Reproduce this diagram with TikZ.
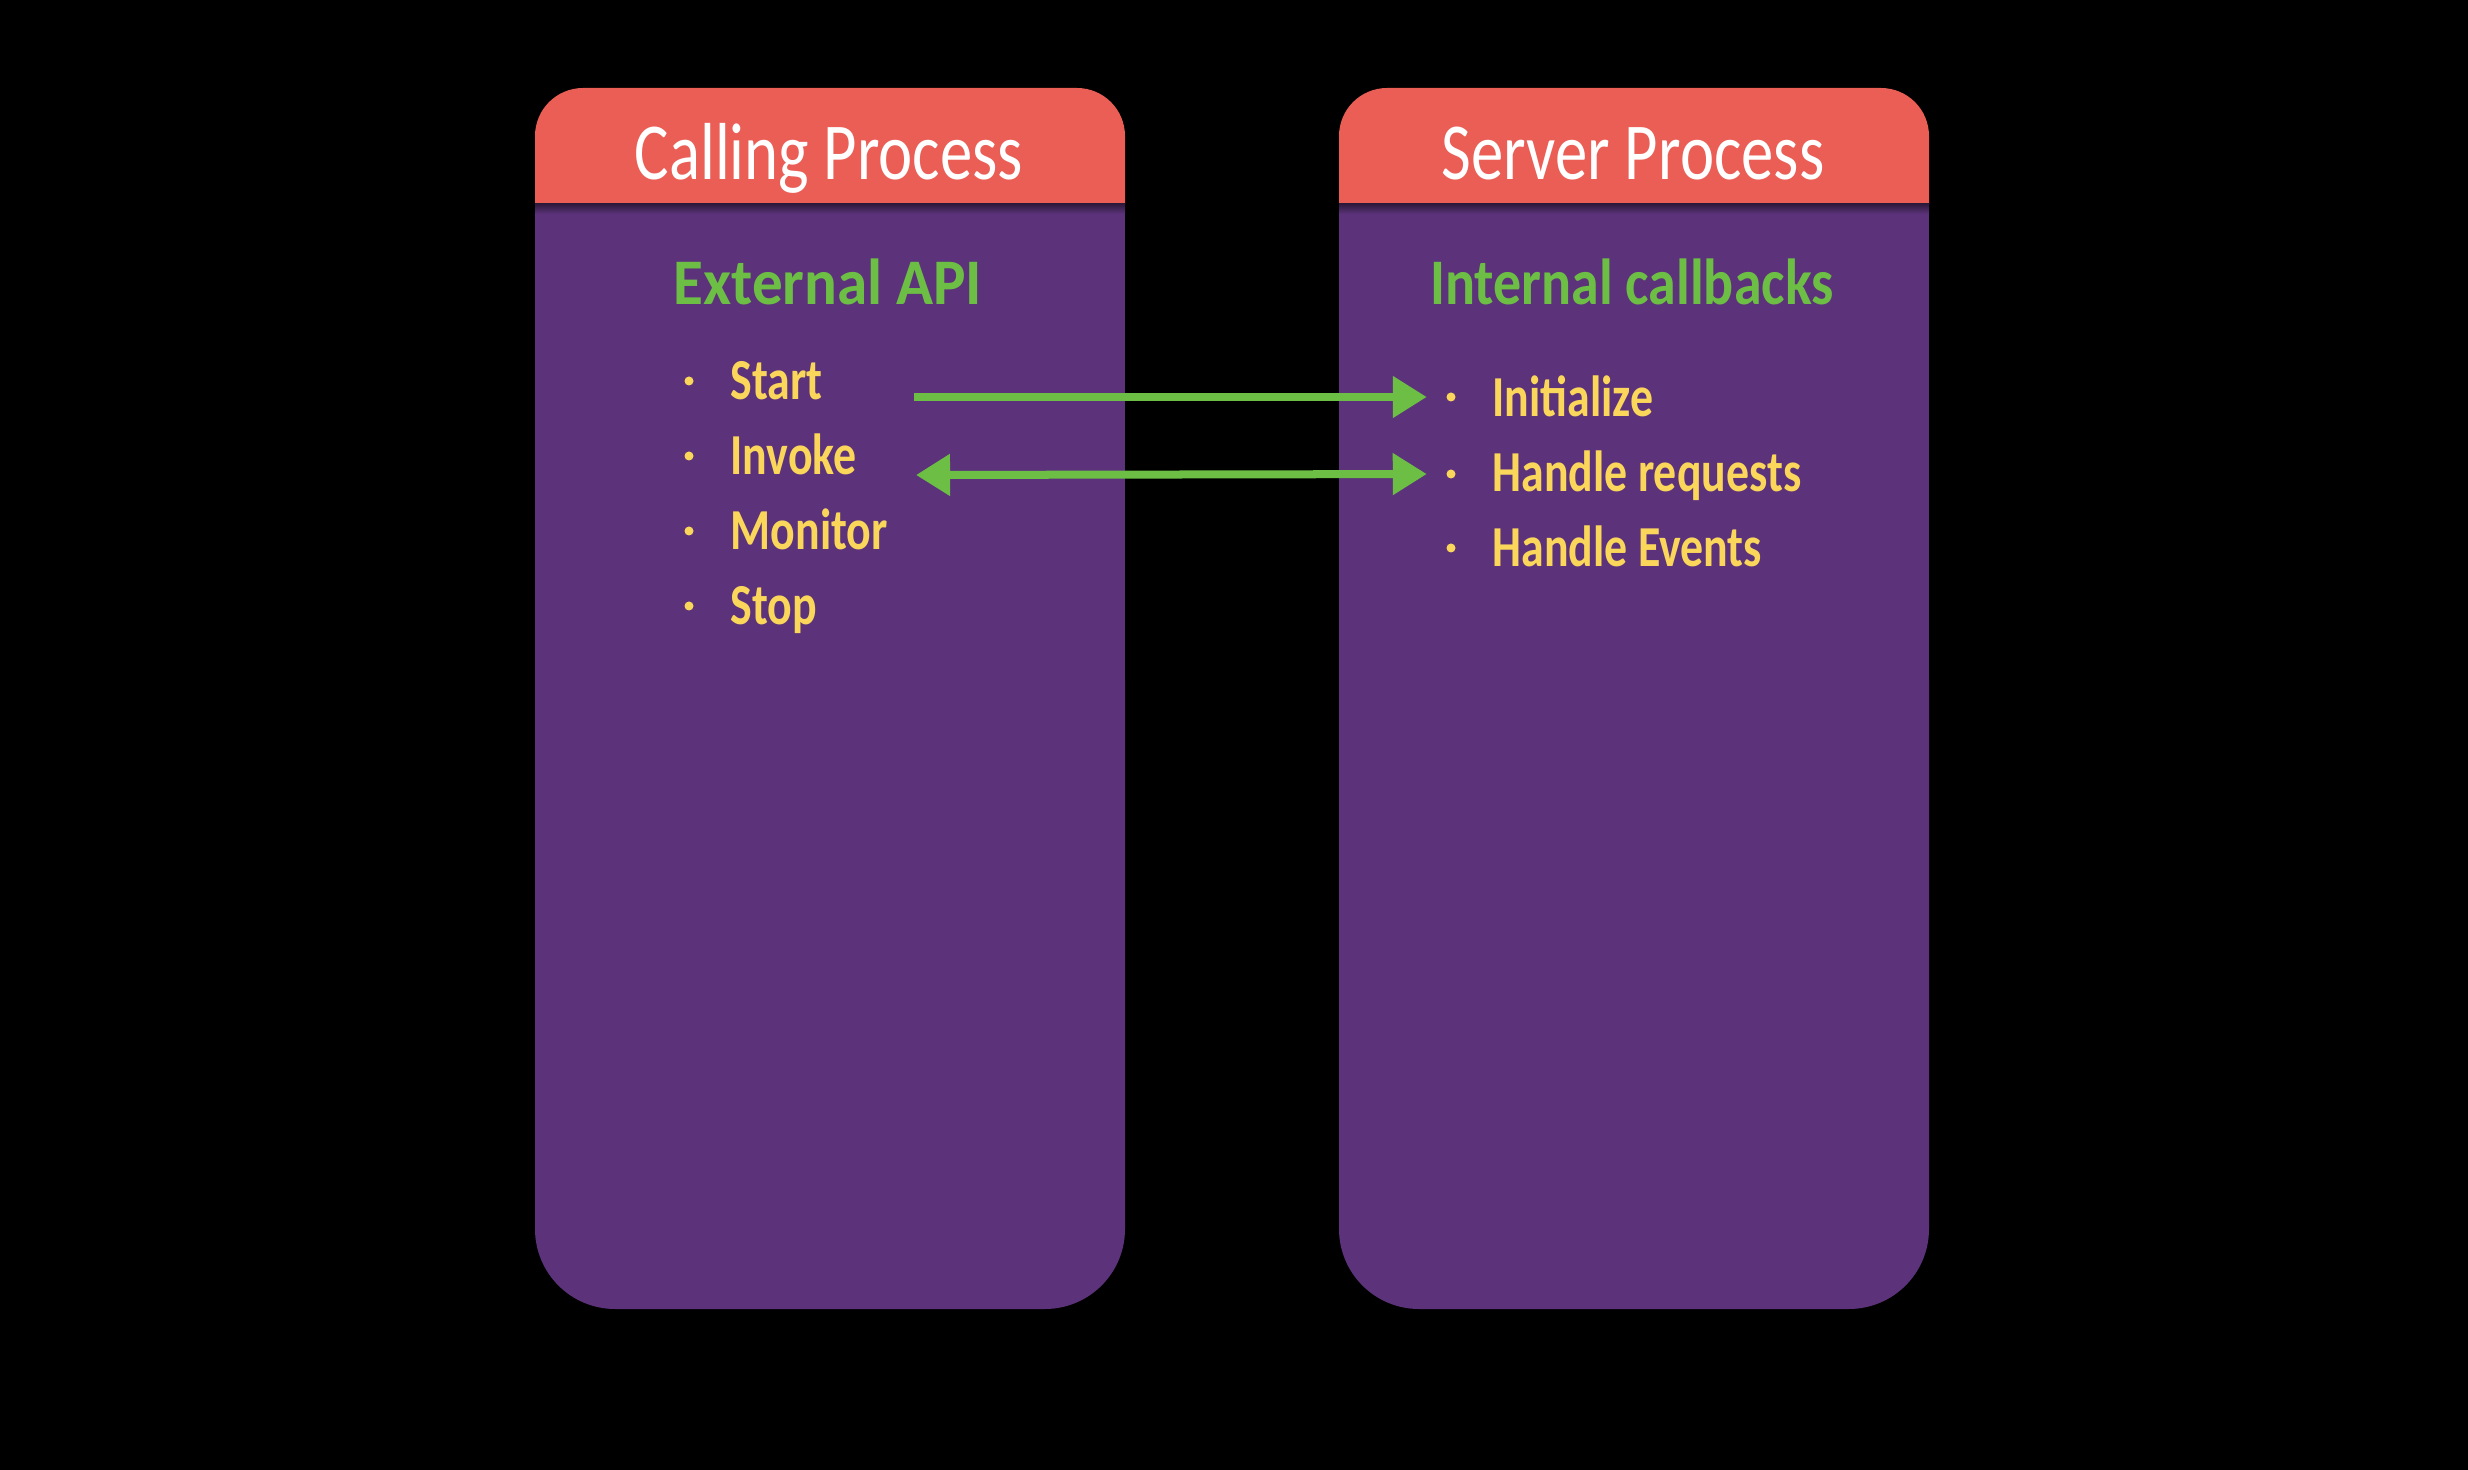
\documentclass[tikz,border=0pt]{standalone}
\usepackage{fontspec}
\setmainfont{Carlito}
\newfontfamily\titlefont{Carlito}[FakeStretch=0.80]
\newfontfamily\headfont{Carlito}[FakeStretch=0.86]
\newfontfamily\headfontwide{Carlito}[FakeStretch=0.94]
\newfontfamily\itemfont{Carlito}[FakeStretch=0.79]
\usetikzlibrary{arrows.meta}
\definecolor{purp}{HTML}{5C337A}
\definecolor{hdr}{HTML}{EA5E56}
\definecolor{grn}{HTML}{6CBE45}
\definecolor{ylw}{HTML}{FAD65A}
\definecolor{shadowc}{HTML}{2E1A3E}
\tikzset{
  titletext/.style={text=white, inner sep=0pt, anchor=base, font=\titlefont\fontsize{23}{27}\selectfont},
  headtext/.style={text=grn, inner sep=0pt, anchor=base, font=\headfont\bfseries\fontsize{18.5}{22}\selectfont},
  headtextwide/.style={headtext, font=\headfontwide\bfseries\fontsize{18.5}{22}\selectfont},
  itemtext/.style={text=ylw, inner sep=0pt, anchor=base west, font=\itemfont\bfseries\fontsize{16.5}{20}\selectfont},
  bulletdot/.style={circle, fill=ylw, inner sep=0pt, minimum size=0.09cm},
  tipstyle/.style={},
  arrowline/.style={draw=grn, line width=0.08cm, -{Triangle[length=0.34cm,width=0.40cm]}},
  arrowboth/.style={draw=grn, line width=0.08cm, {Triangle[length=0.34cm,width=0.40cm]}-{Triangle[length=0.34cm,width=0.40cm]}}
}
\begin{document}
\begin{tikzpicture}[x=0.01cm,y=-0.01cm]
\useasboundingbox (0,0) rectangle (2468,1470);
\fill[black] (0,0) rectangle (2468,1470);

% ---- left box (Calling Process)
\fill[purp, rounded corners=0.8cm] (535,600) rectangle (1125,1309);
\fill[purp] (535,190) rectangle (1125,700);
\begin{scope}
  \clip (500,0) rectangle (1160,204);
  \fill[hdr, rounded corners=0.48cm] (535,88) rectangle (1125,400);
\end{scope}
\shade[top color=shadowc, bottom color=purp] (535,204) rectangle (1125,214);

% ---- right box (Server Process)
\fill[purp, rounded corners=0.8cm] (1339,600) rectangle (1929,1309);
\fill[purp] (1339,190) rectangle (1929,700);
\begin{scope}
  \clip (1300,0) rectangle (1960,204);
  \fill[hdr, rounded corners=0.48cm] (1339,88) rectangle (1929,400);
\end{scope}
\shade[top color=shadowc, bottom color=purp] (1339,204) rectangle (1929,214);

% ---- titles
\node[titletext] (calltitle) at (829,180) {Calling Process};
\node[titletext] (servtitle) at (1633,180) {Server Process};
\node[headtextwide] (extapi) at (828,305) {External API};
\node[headtext] (intcb) at (1632,305) {Internal callbacks};

% ---- left list
\node[bulletdot] (bs1) at (689,381) {};
\node[bulletdot] (bs2) at (689,456) {};
\node[bulletdot] (bs3) at (689,531) {};
\node[bulletdot] (bs4) at (689,606) {};
\node[itemtext] (start) at (730,400) {Start};
\node[itemtext] (invoke) at (730,475) {Invoke};
\node[itemtext] (monitor) at (730,550) {Monitor};
\node[itemtext] (stop) at (730,625) {Stop};

% ---- right list
\node[bulletdot] (bi1) at (1451,397) {};
\node[bulletdot] (bi2) at (1451,474) {};
\node[bulletdot] (bi3) at (1451,548) {};
\node[itemtext] (init) at (1492,417) {Initialize};
\node[itemtext] (handreq) at (1492,492) {Handle requests};
\node[itemtext] (handev) at (1492,567) {Handle Events};

% ---- connectors
\coordinate (a1s) at (914,397);
\coordinate (a2s) at (916,475);
\draw[arrowline, shorten >=0.19cm] (a1s) -- (bi1);
\draw[arrowboth, shorten >=0.19cm] (a2s) -- (bi2);
\end{tikzpicture}
\end{document}
